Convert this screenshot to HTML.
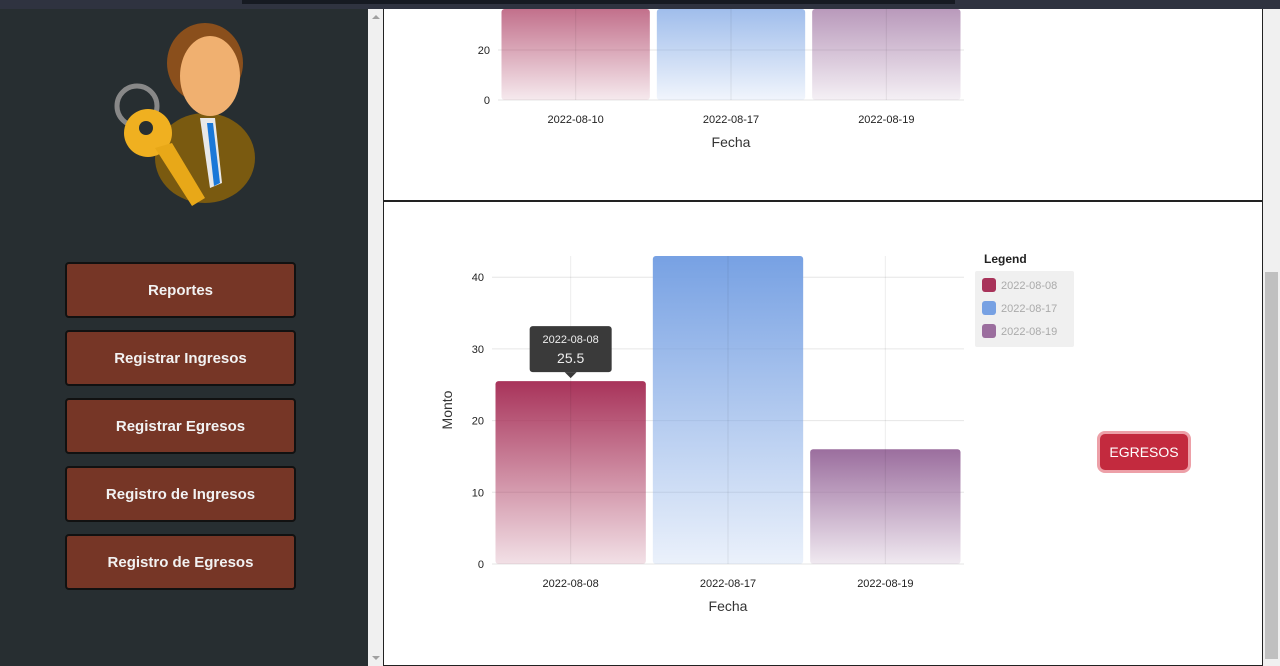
<!DOCTYPE html>
<html><head><meta charset="utf-8"><style>
*{margin:0;padding:0;box-sizing:border-box}
body{width:1280px;height:666px;overflow:hidden;background:#272e31;font-family:"Liberation Sans",sans-serif;position:relative}
.abs{position:absolute}
.btn{position:absolute;left:65px;width:231px;height:56px;background:#763626;border:2px solid #111;border-radius:4px;color:#f2f2f2;font-size:15px;font-weight:bold;display:flex;align-items:center;justify-content:center}
</style></head><body>
<div class="abs" style="left:0;top:0;width:1280px;height:9px;background:#2f3340"></div>
<div class="abs" style="left:242px;top:0;width:713px;height:4px;background:#161a22"></div>
<div class="abs" style="left:0;top:9px;width:368px;height:657px;background:#272e31"></div>
<svg class="abs" style="left:110px;top:18px" width="150" height="192" viewBox="0 0 150 192">
<ellipse cx="95" cy="140" rx="50" ry="45" fill="#7a5a10"/>
<polygon points="90,100 105,100 112,165 100,170" fill="#e8e8e8"/>
<polygon points="97,105 103,105 110,165 104,168" fill="#1a78d8"/>
<ellipse cx="95" cy="45" rx="38" ry="40" fill="#8a4f1c"/>
<ellipse cx="100" cy="58" rx="30" ry="40" fill="#f0b070"/>
<circle cx="27" cy="88" r="20" fill="none" stroke="#888" stroke-width="5"/>
<circle cx="38" cy="115" r="24" fill="#f0b020"/>
<polygon points="45,130 62,125 95,180 82,188" fill="#e8a818"/>
<circle cx="36" cy="110" r="7" fill="#272e31"/>
</svg>
<div class="btn" style="top:262px">Reportes</div>
<div class="btn" style="top:330px">Registrar Ingresos</div>
<div class="btn" style="top:398px">Registrar Egresos</div>
<div class="btn" style="top:466px">Registro de Ingresos</div>
<div class="btn" style="top:534px">Registro de Egresos</div>
<div class="abs" style="left:368px;top:9px;width:16px;height:657px;background:#f0f0f0"><div style="position:absolute;left:4px;top:6px;border:4px solid transparent;border-bottom:4px solid #a0a0a0;border-top:0"></div><div style="position:absolute;left:4px;bottom:6px;border:4px solid transparent;border-top:4px solid #a0a0a0;border-bottom:0"></div></div>
<div class="abs" style="left:383px;top:9px;width:880px;height:657px;background:#fff;border-left:1px solid #222;border-right:1px solid #222;border-bottom:1px solid #222"></div>
<div class="abs" style="left:384px;top:200px;width:878px;height:2px;background:#222"></div>
<div class="abs" style="left:1263px;top:9px;width:17px;height:657px;background:#f0f0f0"><div style="position:absolute;left:2px;top:263px;width:13px;height:387px;background:#c0c0c0"></div></div>
<svg class="abs" id="chart" style="left:0;top:0" width="1280" height="666" font-family="Liberation Sans, sans-serif">
<defs>
<linearGradient id="gr" x1="0" y1="0" x2="0" y2="1"><stop offset="0" stop-color="#a8335a"/><stop offset="1" stop-color="#a8335a" stop-opacity="0.15"/></linearGradient>
<linearGradient id="gb" x1="0" y1="0" x2="0" y2="1"><stop offset="0" stop-color="#77a1e3"/><stop offset="1" stop-color="#77a1e3" stop-opacity="0.15"/></linearGradient>
<linearGradient id="gp" x1="0" y1="0" x2="0" y2="1"><stop offset="0" stop-color="#9b6e9e"/><stop offset="1" stop-color="#9b6e9e" stop-opacity="0.15"/></linearGradient>
</defs>
<g id="top"></g><g id="bot"></g>
</svg>
<div class="abs" style="left:1097px;top:431px;width:94px;height:42px;border:3px solid #eda0a8;border-radius:8px;background:#c32a3e;color:#fff;font-size:14px;display:flex;align-items:center;justify-content:center">EGRESOS</div>
<script>
const topCategories=["2022-08-10","2022-08-17","2022-08-19"];
const topValues=[48,50,46];
const topTicks=[0,20];
const categories=["2022-08-08","2022-08-17","2022-08-19"];
const values=[25.5,43,16];
const yTicks=[0,10,20,30,40];
const fills=["url(#gr)","url(#gb)","url(#gp)"];
const legendColors=["#a8335a","#77a1e3","#9b6e9e"];
const NS="http://www.w3.org/2000/svg";
function mk(p,t,a,txt){const e=document.createElementNS(NS,t);for(const k in a)e.setAttribute(k,a[k]);if(txt!==undefined)e.textContent=txt;p.appendChild(e);return e;}
function draw(g,cats,vals,ticks,x0,x1,y0,pxPer,opts){
  const y=v=>y0-v*pxPer;const bw=(x1-x0)/cats.length;
  ticks.forEach(t=>{const l=mk(g,'line',{x1:x0,x2:x1,y1:y(t),y2:y(t),stroke:'#e6e6e6'});
  
  
  const tx=mk(g,'text',{x:x0-8,y:y(t)+4,'font-size':11,'text-anchor':'end',fill:'#222'},t);
  
  });
  cats.forEach((c,i)=>{const cx=x0+bw*i+bw/2;
    const top=Math.max(y(vals[i]),opts.clip);
    const r=mk(g,'rect',{x:x0+bw*i+3.5,y:top,width:bw-7,height:y0-top,rx:3,fill:fills[i],opacity:opts.op});
    
    
    const v=mk(g,'line',{x1:cx,x2:cx,y1:opts.clip,y2:y0,stroke:'#000','stroke-opacity':0.07});
    
    
    const t=mk(g,'text',{x:cx,y:y0+23,'font-size':11,'text-anchor':'middle',fill:'#222'},c);
    
    });
  const xt=mk(g,'text',{x:(x0+x1)/2,y:y0+47,'font-size':14,'text-anchor':'middle',fill:'#333'},'Fecha');
  
  
  return y;
}
const gt=document.getElementById('top'),gb=document.getElementById('bot');
draw(gt,topCategories,topValues,topTicks,498,964,100,2.5,{clip:9,op:0.7});
const yb=draw(gb,categories,values,yTicks,492,964,564,7.17,{clip:256,op:1});
const yt=mk(gb,'text',{x:452,y:410,'font-size':14,'text-anchor':'middle',fill:'#333',transform:'rotate(-90 452 410)'},'Monto');


const lg=mk(gb,'g',{});


mk(lg,'text',{x:984,y:263,'font-size':12,'font-weight':'bold',fill:'#222'},'Legend');
mk(lg,'rect',{x:975,y:271,width:99,height:76,rx:2,fill:'#f0f0f0'});
categories.forEach((c,i)=>{const e=mk(lg,'g',{});
  
  
  mk(e,'rect',{x:982,y:278+i*23,width:14,height:14,rx:3,fill:legendColors[i]});
  mk(e,'text',{x:1001,y:289+i*23,'font-size':11,fill:'#aaa'},c);});
const bw=(964-492)/3,cx=492+bw/2,ty=yb(values[0]);
const tt=mk(gb,'g',{});


mk(tt,'rect',{x:cx-41,y:ty-55,width:82,height:46,rx:3,fill:'#3a3a3a'});
mk(tt,'polygon',{points:`${cx-6},${ty-9} ${cx+6},${ty-9} ${cx},${ty-3}`,fill:'#3a3a3a'});
mk(tt,'text',{x:cx,y:ty-38,'font-size':11,'text-anchor':'middle',fill:'#eee'},categories[0]);
mk(tt,'text',{x:cx,y:ty-18,'font-size':14,'text-anchor':'middle',fill:'#eee'},values[0]);
</script>
</body></html>
